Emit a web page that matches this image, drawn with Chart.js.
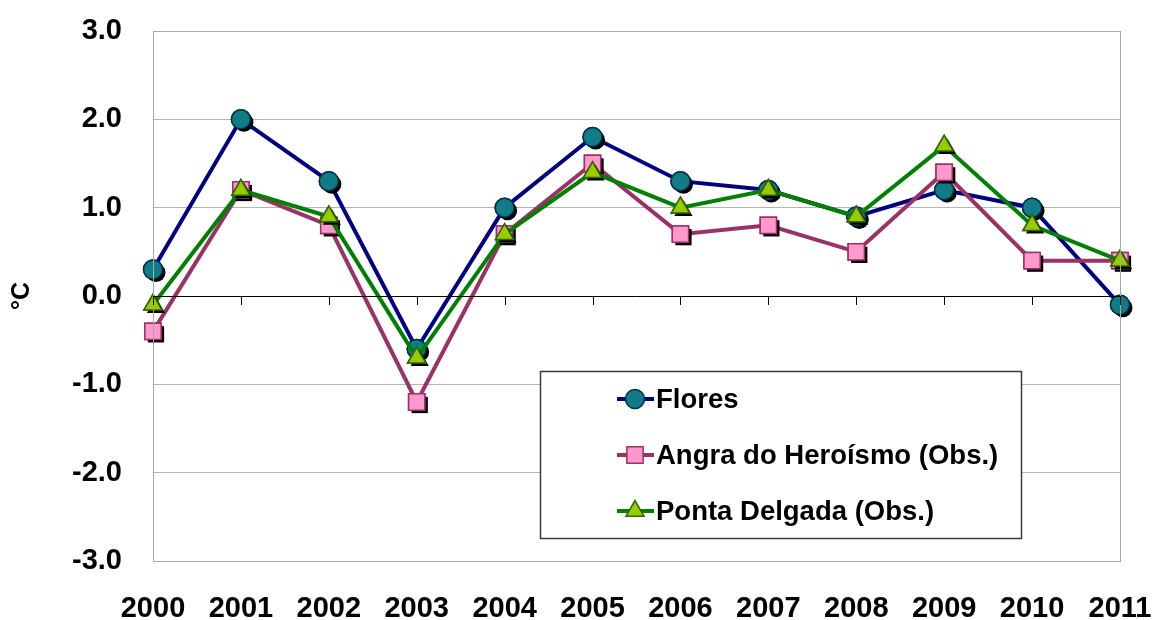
<!DOCTYPE html>
<html>
<head>
<meta charset="utf-8">
<script src="https://cdn.jsdelivr.net/npm/chart.js@4.4.1/dist/chart.umd.min.js"></script>
<style>
  html, body { margin: 0; padding: 0; background: #fff; }
  #wrap { width: 1154px; height: 620px; }
</style>
</head>
<body>
<div id="wrap"><canvas id="chart" width="1154" height="620"></canvas></div>
<script>
const years = ['2000', '2001', '2002', '2003', '2004', '2005', '2006', '2007', '2008', '2009', '2010', '2011'];
const flores = [0.3, 2.0, 1.3, -0.6, 1.0, 1.8, 1.3, 1.2, 0.9, 1.2, 1.0, -0.1];
const angra = [-0.4, 1.2, 0.8, -1.2, 0.7, 1.5, 0.7, 0.8, 0.5, 1.4, 0.4, 0.4];
const pontaDelgada = [-0.1, 1.2, 0.9, -0.7, 0.7, 1.4, 1.0, 1.2, 0.9, 1.7, 0.8, 0.4];

const FONT = '"Liberation Sans", Arial, sans-serif';

// black drop shadow under each marker, then the marker again on top of it
const markerShadow = {
	id: 'markerShadow',
	afterDatasetDraw(chart, args) {
		const ctx = chart.ctx;
		const meta = args.meta;
		ctx.save();
		ctx.fillStyle = '#000';
		meta.data.forEach(pt => {
			const o = pt.options;
			Chart.helpers.drawPoint(ctx, { pointStyle: o.pointStyle, radius: o.radius, rotation: 0, borderWidth: 0 }, pt.x + 3, pt.y + 3);
		});
		ctx.restore();
		meta.data.forEach(pt => pt.draw(ctx, chart.chartArea));
	}
};

// plot frame, zero axis with its tick marks, and the boxed legend
const frameAndLegend = {
	id: 'frameAndLegend',
	afterDraw(chart) {
		const ctx = chart.ctx;
		const a = chart.chartArea;
		const xs = chart.scales.x;
		const y0 = chart.scales.y.getPixelForValue(0);

		ctx.save();
		ctx.strokeStyle = '#a8a8a8';
		ctx.lineWidth = 1;
		ctx.strokeRect(a.left + 0.5, a.top + 0.5, a.right - a.left, a.bottom - a.top);

		ctx.strokeStyle = '#000';
		ctx.beginPath();
		ctx.moveTo(a.left, Math.round(y0) + 0.5);
		ctx.lineTo(a.right, Math.round(y0) + 0.5);
		years.forEach((yr, i) => {
			const x = Math.round(xs.getPixelForValue(i)) + 0.5;
			ctx.moveTo(x, y0);
			ctx.lineTo(x, y0 + 9);
		});
		ctx.stroke();

		// legend box
		const bx = a.left + 387, by = a.top + 340, bw = 481, bh = 167;
		ctx.fillStyle = '#fff';
		ctx.fillRect(bx, by, bw, bh);
		ctx.strokeStyle = '#3a3a3a';
		ctx.lineWidth = 1.5;
		ctx.strokeRect(bx + 0.5, by + 0.5, bw, bh);

		chart.data.datasets.forEach((ds, i) => {
			const cy = by + 28 + i * 56;
			const lx = bx + 77;
			ctx.strokeStyle = ds.borderColor;
			ctx.lineWidth = 4;
			ctx.beginPath();
			ctx.moveTo(lx, cy);
			ctx.lineTo(lx + 37, cy);
			ctx.stroke();

			const opts = { pointStyle: ds.pointStyle, radius: ds.pointRadius, rotation: 0, borderWidth: ds.pointBorderWidth };
			ctx.fillStyle = ds.pointBackgroundColor;
			ctx.strokeStyle = ds.pointBorderColor;
			ctx.lineWidth = ds.pointBorderWidth;
			Chart.helpers.drawPoint(ctx, opts, lx + 18, cy);

			ctx.fillStyle = '#000';
			ctx.font = 'bold 27.5px ' + FONT;
			ctx.textAlign = 'left';
			ctx.textBaseline = 'middle';
			ctx.fillText(ds.label, lx + 39, cy + 1);
		});
		ctx.restore();
	}
};

new Chart(document.getElementById('chart'), {
	type: 'line',
	data: {
		labels: years,
		datasets: [
			{
				label: 'Flores',
				data: flores,
				borderColor: '#000080',
				borderWidth: 4,
				pointStyle: 'circle',
				pointRadius: 9.5,
				pointBackgroundColor: '#0f7c88',
				pointBorderColor: '#06304a',
				pointBorderWidth: 1.5,
				order: 3
			},
			{
				label: 'Angra do Heroísmo (Obs.)',
				data: angra,
				borderColor: '#993366',
				borderWidth: 4,
				pointStyle: 'rect',
				pointRadius: 11.5,
				pointBackgroundColor: '#ff99cc',
				pointBorderColor: '#993366',
				pointBorderWidth: 1.5,
				order: 2
			},
			{
				label: 'Ponta Delgada (Obs.)',
				data: pontaDelgada,
				borderColor: '#008000',
				borderWidth: 4,
				pointStyle: 'triangle',
				pointRadius: 10.5,
				pointBackgroundColor: '#99cc00',
				pointBorderColor: '#336600',
				pointBorderWidth: 1.5,
				order: 1
			}
		]
	},
	options: {
		responsive: false,
		animation: false,
		events: [],
		layout: { padding: { top: 31, right: 34, left: 0, bottom: 0 } },
		plugins: {
			legend: { display: false },
			tooltip: { enabled: false }
		},
		scales: {
			x: {
				offset: false,
				grid: { display: false },
				border: { display: false },
				ticks: {
					color: '#000',
					font: { family: FONT, size: 29, weight: 'bold' },
					padding: 23,
					maxRotation: 0,
					autoSkip: false
				},
				afterFit: s => {
					s.height = 59;
					s.paddingLeft = 0;
					s.paddingRight = 0;
				}
			},
			y: {
				min: -3,
				max: 3,
				grid: { color: '#b4b4b4', lineWidth: 1, drawTicks: false },
				border: { color: '#a8a8a8' },
				ticks: {
					stepSize: 1,
					color: '#000',
					padding: 31,
					font: { family: FONT, size: 29, weight: 'bold' },
					callback: v => v.toFixed(1)
				},
				title: {
					display: true,
					text: '°C',
					color: '#000',
					font: { family: FONT, size: 25, weight: 'bold' },
					padding: { top: 7, bottom: 0 }
				},
				afterFit: s => {
					s.width = 153;
					s.paddingTop = 0;
					s.paddingBottom = 0;
				}
			}
		}
	},
	plugins: [markerShadow, frameAndLegend]
});
</script>
</body>
</html>
